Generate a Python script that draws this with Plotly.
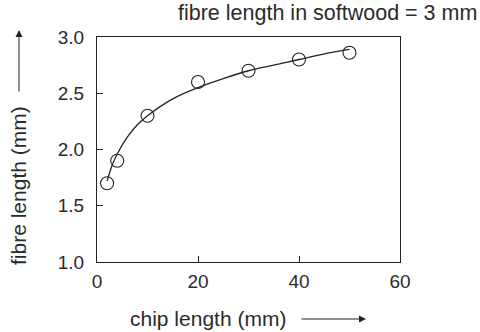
import plotly.graph_objects as go

# measured points
chip_mm = [2, 4, 10, 20, 30, 40, 50]
fibre_mm = [1.70, 1.90, 2.30, 2.60, 2.70, 2.80, 2.86]

# fitted curve
curve_x = [2, 3, 4, 6, 8, 10, 15, 20, 25, 30, 35, 40, 45, 50]
curve_y = [1.72, 1.86, 1.96, 2.11, 2.22, 2.30, 2.45, 2.55, 2.63, 2.70, 2.75, 2.80, 2.85, 2.89]

x_ticks = [0, 20, 40, 60]
y_ticks = [1.0, 1.5, 2.0, 2.5, 3.0]

FONT = "Liberation Sans, Arial, sans-serif"
TXT = "#2b2b2b"
LINE = "#222222"

fig = go.Figure()
fig.add_trace(go.Scatter(x=curve_x, y=curve_y, mode="lines", line=dict(color=LINE, width=1.3, shape="spline"),
                         showlegend=False, hoverinfo="skip"))
fig.add_trace(go.Scatter(x=chip_mm, y=fibre_mm, mode="markers",
                         marker=dict(symbol="circle-open", size=13, color=LINE, line=dict(width=1.1)),
                         showlegend=False))

W, H = 480, 332
L, R, T, B = 97, 80, 37, 70
pw, ph = W - L - R, H - T - B

def px(xp):
    return (xp - L) / pw

def py(yp):
    return (H - B - yp) / ph

fig.update_layout(
    width=W, height=H,
    margin=dict(l=L, r=R, t=T, b=B, pad=0),
    paper_bgcolor="white", plot_bgcolor="white",
    font=dict(family=FONT, size=19, color=TXT),
    xaxis=dict(range=[0, 60], tickvals=x_ticks, ticktext=[str(v) for v in x_ticks],
               ticks="inside", ticklen=6, tickcolor=LINE, showgrid=False, zeroline=False,
               showline=True, linecolor=LINE, linewidth=1.2, mirror=True, ticklabelstandoff=2,
               tickfont=dict(size=19)),
    yaxis=dict(range=[1.0, 3.0], tickvals=y_ticks, ticktext=[f"{v:.1f}" for v in y_ticks],
               ticks="inside", ticklen=6, tickcolor=LINE, showgrid=False, zeroline=False,
               showline=True, linecolor=LINE, linewidth=1.2, mirror=True, ticklabelstandoff=8,
               tickfont=dict(size=19)),
    annotations=[
        dict(text="fibre length in softwood = 3 mm", xref="paper", yref="paper",
             x=px(479), y=py(13), xanchor="right", yanchor="middle", showarrow=False,
             font=dict(size=21.5, color=TXT)),
        dict(text="fibre length (mm)", xref="paper", yref="paper", x=px(18), y=py(186),
             textangle=-90, xanchor="center", yanchor="middle", showarrow=False,
             font=dict(size=21, color=TXT)),
        dict(text="", xref="paper", yref="paper", x=px(19), y=py(30), ax=0, ay=63,
             showarrow=True, arrowhead=2, arrowsize=1.4, arrowwidth=1, arrowcolor=LINE),
        dict(text="chip length (mm)", xref="paper", yref="paper", x=px(208), y=py(318),
             xanchor="center", yanchor="middle", showarrow=False, font=dict(size=21, color=TXT)),
        dict(text="", xref="paper", yref="paper", x=px(366), y=py(319), ax=-66, ay=0,
             showarrow=True, arrowhead=2, arrowsize=1.4, arrowwidth=1, arrowcolor=LINE),
    ],
)

fig.write_html("out.html")
